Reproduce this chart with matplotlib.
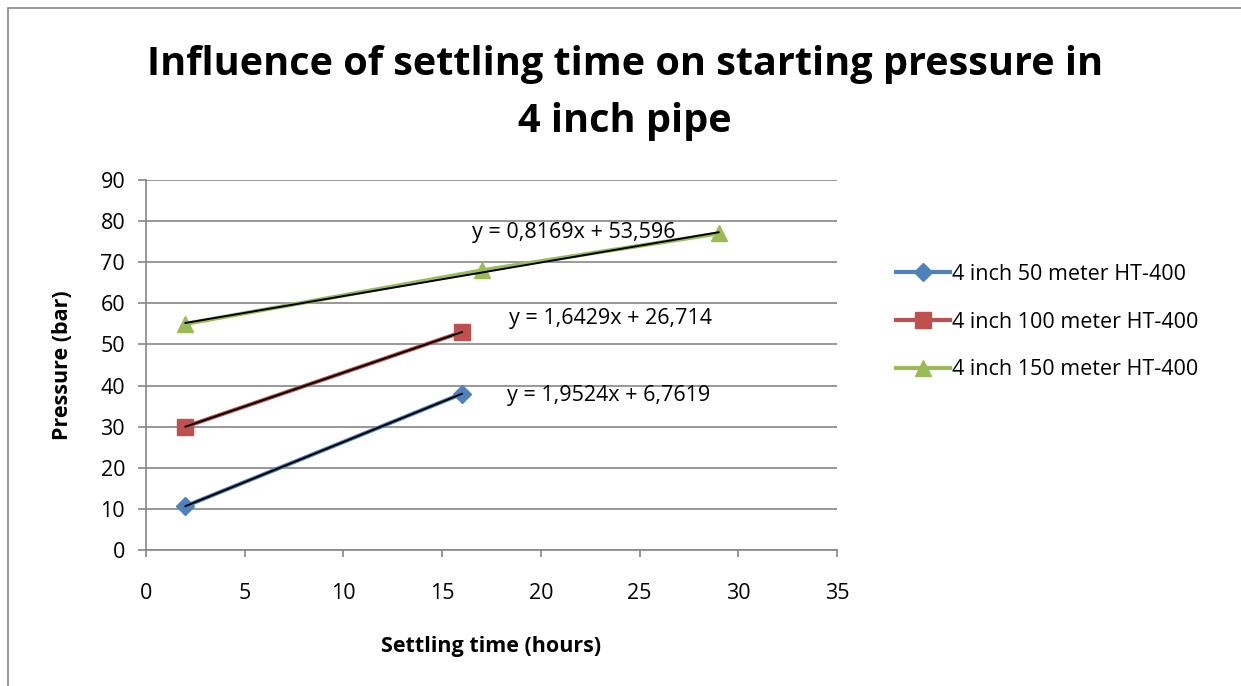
import numpy as np
import matplotlib.pyplot as plt
from matplotlib.patches import Rectangle

plt.rcParams['font.family'] = ['Open Sans', 'DejaVu Sans']

# data
x50 = [2, 16]
p50 = [10.67, 38]
x100 = [2, 16]
p100 = [30, 53]
x150 = [2, 17, 29]
p150 = [55, 68, 77]

names = ["4 inch 50 meter HT-400", "4 inch 100 meter HT-400", "4 inch 150 meter HT-400"]
eqs = ["y = 1,9524x + 6,7619", "y = 1,6429x + 26,714", "y = 0,8169x + 53,596"]
eq_pos = [(18.3, 37.6), (18.4, 56.4), (16.5, 77.3)]

cols = ['#4F81BD', '#C0504D', '#9BBB59']
marks = ['D', 's', '^']
msz = [9, 12, 12]

fig = plt.figure(figsize=(12.41, 6.86), dpi=100)
fig.patches.append(Rectangle((8/1241, -0.1), 1.2, 1.1 - 8/686, transform=fig.transFigure,
                             fill=False, ec='#868686', lw=1.2))
ax = fig.add_axes([146/1241, 1-550/686, 691/1241, 370/686])

series = [(x50, p50), (x100, p100), (x150, p150)]
for i, (xs, ys) in enumerate(series):
    ax.plot(xs, ys, color=cols[i], lw=3, marker=marks[i], ms=msz[i], label=names[i], zorder=3)
    k, b = np.polyfit(xs, ys, 1)
    xx = np.array([min(xs), max(xs)])
    ax.plot(xx, k*xx+b, color='black', lw=1.4, zorder=4)
    ax.text(eq_pos[i][0], eq_pos[i][1], eqs[i], fontsize=15.5, va='center', ha='left', zorder=5)

ax.set_xlim(0, 35)
ax.set_ylim(0, 90)
ax.set_xticks(range(0, 36, 5))
ax.set_yticks(range(0, 91, 10))
ax.yaxis.grid(True, color='#868686', lw=1.2)
ax.set_axisbelow(True)
for s in ['top', 'right']:
    ax.spines[s].set_visible(False)
for s in ['left', 'bottom']:
    ax.spines[s].set_color('#868686')
    ax.spines[s].set_linewidth(1.2)
ax.tick_params(axis='both', colors='#868686', width=1.2, labelsize=15.5, labelcolor='black')
ax.tick_params(axis='x', length=5, pad=19)
ax.tick_params(axis='y', length=6, pad=9)

ax.set_xlabel("Settling time (hours)", fontsize=15.5, fontweight='bold', labelpad=23)
ax.set_ylabel("Pressure (bar)", fontsize=15.5, fontweight='bold', labelpad=20)

fig.suptitle("Influence of settling time on starting pressure in\n4 inch pipe",
             x=625/1241, y=1-45/686, fontsize=28.5, fontweight='bold', linespacing=1.6)

ax.legend(loc='center left', bbox_to_anchor=(877/1241, 1-322/686), bbox_transform=fig.transFigure,
          frameon=False, fontsize=15.5, handlelength=2.5, handletextpad=0.1, labelspacing=1.25)

fig.savefig('out.png', dpi=100)
